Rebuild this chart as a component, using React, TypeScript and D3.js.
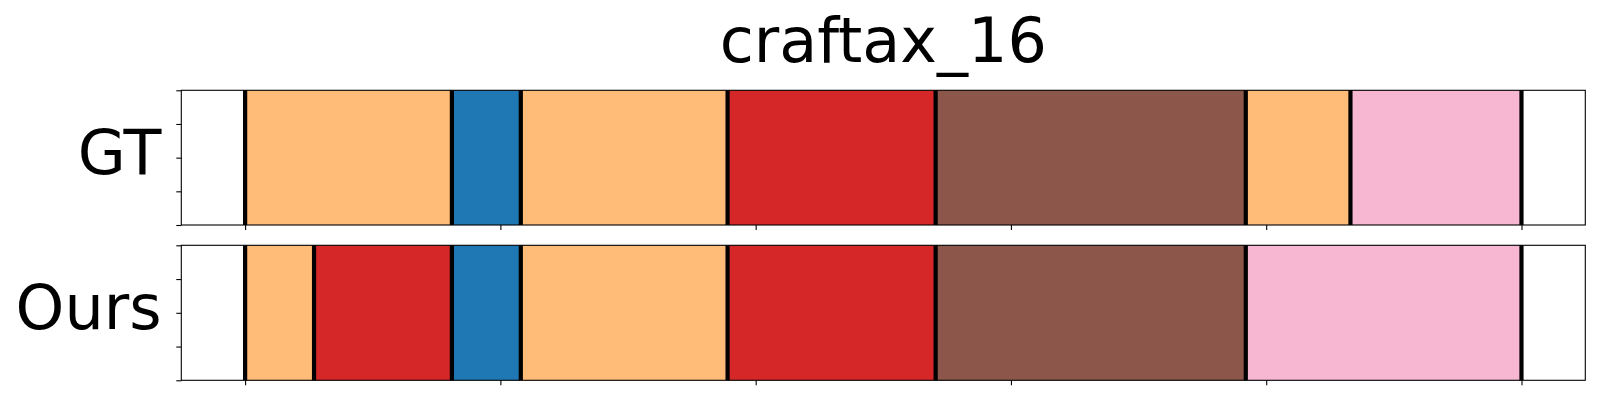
import React, { useEffect, useRef } from 'react';
import * as d3 from 'd3';

// segment boundaries (x units, ticks every 20) and the colour class of each segment
const gtBounds = [0, 16.2, 21.6, 37.8, 54.1, 78.4, 86.6, 100];
const gtClasses = ['peach', 'blue', 'peach', 'red', 'brown', 'peach', 'pink'];
const oursBounds = [0, 5.4, 16.2, 21.6, 37.8, 54.1, 78.4, 100];
const oursClasses = ['peach', 'red', 'blue', 'peach', 'red', 'brown', 'pink'];

const classNames = ['blue', 'peach', 'red', 'brown', 'pink'];
const classColors = ['#1f77b4', '#ffbb78', '#d62728', '#8c564b', '#f7b6d2'];

const rowLabels = ['GT', 'Ours'];
const xTicks = [0, 20, 40, 60, 80, 100];
const yTicks = [0, 0.25, 0.5, 0.75, 1];
const title = 'craftax_16';

const W = 1600;
const H = 400;

const App = () => {
  const svgRef = useRef<SVGSVGElement>(null);

  useEffect(() => {
    if (!svgRef.current) return;
    const svg = d3.select(svgRef.current);
    svg.selectAll('*').remove();

    const font = 'DejaVu Sans, sans-serif';
    const left = 181.3;
    const right = 1585.3;
    const panels = [
      { top: 90.3, bottom: 225, bounds: gtBounds, classes: gtClasses, label: rowLabels[0], base: 174 },
      { top: 245.3, bottom: 380.3, bounds: oursBounds, classes: oursClasses, label: rowLabels[1], base: 329 },
    ];

    const x = d3.scaleLinear().domain([-5, 105]).range([left, right]);
    const color = d3.scaleOrdinal<string, string>().domain(classNames).range(classColors);

    svg.append('text')
      .attr('x', (left + right) / 2)
      .attr('y', 62)
      .attr('text-anchor', 'middle')
      .attr('font-family', font)
      .attr('font-size', 62)
      .text(title);

    panels.forEach(p => {
      const y = d3.scaleLinear().domain([0, 1]).range([p.bottom, p.top]);
      const g = svg.append('g');

      const segs = p.classes.map((c, i) => ({ c, x0: p.bounds[i], x1: p.bounds[i + 1] }));
      g.selectAll('rect.seg')
        .data(segs)
        .enter()
        .append('rect')
        .attr('class', 'seg')
        .attr('x', d => x(d.x0))
        .attr('width', d => x(d.x1) - x(d.x0))
        .attr('y', y(1))
        .attr('height', y(0) - y(1))
        .attr('fill', d => color(d.c));

      // boundary lines
      g.selectAll('line.bound')
        .data(p.bounds)
        .enter()
        .append('line')
        .attr('class', 'bound')
        .attr('x1', d => x(d))
        .attr('x2', d => x(d))
        .attr('y1', y(0))
        .attr('y2', y(1))
        .attr('stroke', '#000')
        .attr('stroke-width', 4.2);

      const yAxis = d3.axisLeft(y).tickValues(yTicks).tickFormat(() => '').tickSize(5).tickSizeOuter(0);
      const xAxis = d3.axisBottom(x).tickValues(xTicks).tickFormat(() => '').tickSize(5).tickSizeOuter(0);

      const ya = g.append('g').attr('transform', `translate(${left},0)`).call(yAxis);
      const xa = g.append('g').attr('transform', `translate(0,${p.bottom})`).call(xAxis);
      [ya, xa].forEach(a => {
        a.select('.domain').remove();
        a.selectAll('line').attr('stroke', '#000').attr('stroke-width', 1.1);
      });

      g.append('rect')
        .attr('x', left)
        .attr('y', p.top)
        .attr('width', right - left)
        .attr('height', p.bottom - p.top)
        .attr('fill', 'none')
        .attr('stroke', '#000')
        .attr('stroke-width', 1.1);

      g.append('text')
        .attr('x', 161.5)
        .attr('y', p.base)
        .attr('text-anchor', 'end')
        .attr('font-family', font)
        .attr('font-size', 62)
        .text(p.label);
    });
  }, []);

  return (
    <svg
      ref={svgRef}
      width={W}
      height={H}
      style={{ position: 'absolute', left: 0, top: 0, background: '#fff' }}
    />
  );
};

export default App;
